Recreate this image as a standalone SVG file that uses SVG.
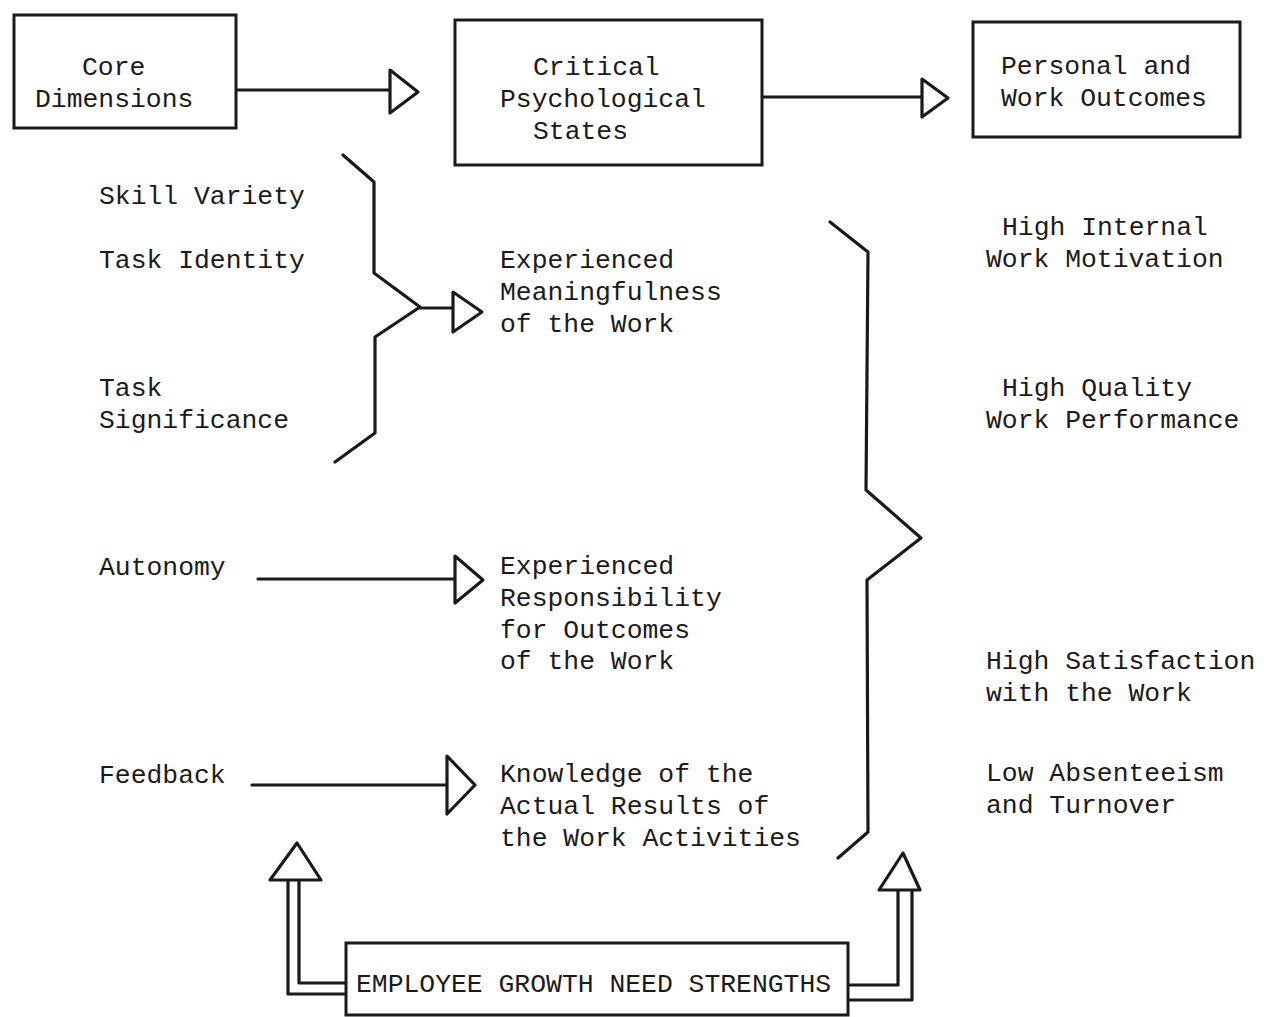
<svg xmlns="http://www.w3.org/2000/svg" width="1264" height="1017" viewBox="0 0 1264 1017">
<style>
  text { font-family: "Liberation Mono", "DejaVu Sans Mono", monospace; font-size: 26.4px; fill: #1a1a1a; }
  .box { fill: #ffffff; stroke: #1a1a1a; stroke-width: 3; }
  .ln { fill: none; stroke: #1a1a1a; stroke-width: 3.2; stroke-linejoin: round; stroke-linecap: round; }
  .tri { fill: #ffffff; stroke: #1a1a1a; stroke-width: 3.2; stroke-linejoin: round; }
</style>
<rect x="0" y="0" width="1264" height="1017" fill="#ffffff"/>

<g id="connectors">
  <!-- top arrows -->
  <line class="ln" x1="237" y1="90" x2="390" y2="90"/>
  <polygon class="tri" points="390,70 418,92 390,113"/>
  <line class="ln" x1="762" y1="97" x2="922" y2="97"/>
  <polygon class="tri" points="922,79 948,98 922,117"/>
  <!-- left brace -->
  <polyline class="ln" points="343,155 374,182 374,273 420,307 375,337 375,433 335,462"/>
  <line class="ln" x1="420" y1="308" x2="453" y2="308"/>
  <polygon class="tri" points="453,292 482,312 453,332"/>
  <!-- autonomy -->
  <line class="ln" x1="258" y1="579" x2="455" y2="579"/>
  <polygon class="tri" points="455,556 483,580 455,603"/>
  <!-- feedback -->
  <line class="ln" x1="252" y1="785" x2="447" y2="785"/>
  <polygon class="tri" points="447,756 475,785 447,814"/>
  <!-- right brace -->
  <polyline class="ln" points="830,222 868,252 866,490 921,538 867,580 868,832 838,858"/>
  <!-- bottom left double arrow -->
  <polyline class="ln" points="346,994 288,994 288,880"/>
  <polyline class="ln" points="346,983 299,983 299,880"/>
  <polygon class="tri" points="270,880 297,843 321,880"/>
  <!-- bottom right double arrow -->
  <polyline class="ln" points="848,985 898,985 898,890"/>
  <polyline class="ln" points="848,1000 912,1000 912,890"/>
  <polygon class="tri" points="879,890 903,853 920,890"/>
</g>

<g id="core-dimensions">
  <rect class="box" x="14" y="15" width="222" height="113"/>
  <text x="82" y="75">Core</text>
  <text x="35" y="107">Dimensions</text>
</g>

<g id="critical-states">
  <rect class="box" x="455" y="20" width="307" height="145"/>
  <text x="533" y="75">Critical</text>
  <text x="500" y="107">Psychological</text>
  <text x="533" y="139">States</text>
</g>

<g id="outcomes">
  <rect class="box" x="973" y="22" width="267" height="115"/>
  <text x="1001" y="74">Personal and</text>
  <text x="1001" y="106">Work Outcomes</text>
</g>

<g id="skill-variety"><text x="99" y="204">Skill Variety</text></g>
<g id="task-identity"><text x="99" y="268">Task Identity</text></g>
<g id="task-significance">
  <text x="99" y="396">Task</text>
  <text x="99" y="428">Significance</text>
</g>
<g id="autonomy"><text x="99" y="575">Autonomy</text></g>
<g id="feedback"><text x="99" y="783">Feedback</text></g>

<g id="meaningfulness">
  <text x="500" y="268">Experienced</text>
  <text x="500" y="300">Meaningfulness</text>
  <text x="500" y="332">of the Work</text>
</g>
<g id="responsibility">
  <text x="500" y="574">Experienced</text>
  <text x="500" y="606">Responsibility</text>
  <text x="500" y="638">for Outcomes</text>
  <text x="500" y="669">of the Work</text>
</g>
<g id="knowledge">
  <text x="500" y="782">Knowledge of the</text>
  <text x="500" y="814">Actual Results of</text>
  <text x="500" y="846">the Work Activities</text>
</g>

<g id="motivation">
  <text x="1002" y="235">High Internal</text>
  <text x="986" y="267">Work Motivation</text>
</g>
<g id="quality">
  <text x="1002" y="396">High Quality</text>
  <text x="986" y="428">Work Performance</text>
</g>
<g id="satisfaction">
  <text x="986" y="669">High Satisfaction</text>
  <text x="986" y="701">with the Work</text>
</g>
<g id="absenteeism">
  <text x="986" y="781">Low Absenteeism</text>
  <text x="986" y="813">and Turnover</text>
</g>

<g id="growth-need">
  <rect class="box" x="346" y="943" width="502" height="72"/>
  <text x="356" y="992">EMPLOYEE GROWTH NEED STRENGTHS</text>
</g>
</svg>
